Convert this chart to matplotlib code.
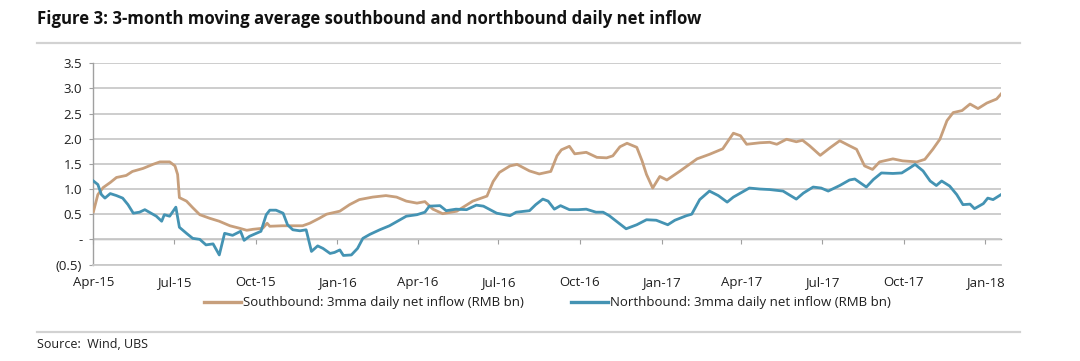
import numpy as np
import pandas as pd
import matplotlib
matplotlib.use("Agg")
import matplotlib.pyplot as plt
import matplotlib.dates as mdates
from matplotlib.lines import Line2D

# Southbound: 3mma daily net inflow (RMB bn)
sb_dates = ["2015-04-01", "2015-04-06", "2015-04-12", "2015-04-20", "2015-04-27", "2015-05-08",
            "2015-05-15", "2015-05-27", "2015-06-07", "2015-06-15", "2015-06-26", "2015-07-02",
            "2015-07-05", "2015-07-07", "2015-07-15", "2015-07-22", "2015-07-30", "2015-08-10",
            "2015-08-21", "2015-09-02", "2015-09-13", "2015-09-21", "2015-09-28", "2015-10-09",
            "2015-10-14", "2015-10-17", "2015-10-31", "2015-11-23", "2015-12-01", "2015-12-12",
            "2015-12-20", "2016-01-04", "2016-01-15", "2016-01-26", "2016-02-10", "2016-02-25",
            "2016-03-08", "2016-03-19", "2016-03-31", "2016-04-09", "2016-04-18", "2016-04-29",
            "2016-05-15", "2016-06-02", "2016-06-18", "2016-06-25", "2016-07-02", "2016-07-14",
            "2016-07-22", "2016-08-05", "2016-08-16", "2016-08-29", "2016-09-05", "2016-09-10",
            "2016-09-19", "2016-09-25", "2016-10-08", "2016-10-20", "2016-10-31", "2016-11-07",
            "2016-11-15", "2016-11-23", "2016-12-04", "2016-12-10", "2016-12-15", "2016-12-22",
            "2016-12-30", "2017-01-07", "2017-01-22", "2017-02-10", "2017-02-24", "2017-03-11",
            "2017-03-23", "2017-03-31", "2017-04-07", "2017-04-22", "2017-05-03", "2017-05-11",
            "2017-05-22", "2017-06-02", "2017-06-09", "2017-06-17", "2017-06-29", "2017-07-10",
            "2017-07-21", "2017-08-01", "2017-08-09", "2017-08-18", "2017-08-27", "2017-09-04",
            "2017-09-19", "2017-09-30", "2017-10-16", "2017-10-25", "2017-11-03", "2017-11-11",
            "2017-11-19", "2017-11-26", "2017-12-06", "2017-12-15", "2017-12-24", "2018-01-03",
            "2018-01-14", "2018-01-19"]
sb_vals = [0.55, 0.89, 1.03, 1.13, 1.23, 1.27,
           1.35, 1.41, 1.49, 1.54, 1.54, 1.46,
           1.29, 0.83, 0.76, 0.63, 0.49, 0.42,
           0.36, 0.27, 0.22, 0.18, 0.20, 0.22,
           0.32, 0.26, 0.27, 0.27, 0.32, 0.42,
           0.50, 0.56, 0.69, 0.79, 0.84, 0.87,
           0.84, 0.76, 0.72, 0.75, 0.60, 0.51,
           0.56, 0.76, 0.86, 1.15, 1.33, 1.46,
           1.49, 1.36, 1.30, 1.35, 1.66, 1.78,
           1.85, 1.70, 1.73, 1.63, 1.62, 1.66,
           1.84, 1.91, 1.83, 1.56, 1.29, 1.02,
           1.25, 1.18, 1.36, 1.60, 1.69, 1.80,
           2.11, 2.06, 1.89, 1.92, 1.93, 1.89,
           1.99, 1.94, 1.97, 1.86, 1.67, 1.82,
           1.96, 1.86, 1.79, 1.46, 1.39, 1.54,
           1.60, 1.56, 1.54, 1.59, 1.79, 1.99,
           2.36, 2.52, 2.56, 2.69, 2.60, 2.71,
           2.79, 2.89]

# Northbound: 3mma daily net inflow (RMB bn)
nb_dates = ["2015-04-01", "2015-04-06", "2015-04-10", "2015-04-14", "2015-04-20", "2015-04-27",
            "2015-05-04", "2015-05-10", "2015-05-16", "2015-05-23", "2015-05-29", "2015-06-03",
            "2015-06-11", "2015-06-17", "2015-06-20", "2015-06-26", "2015-07-03", "2015-07-07",
            "2015-07-15", "2015-07-22", "2015-07-30", "2015-08-06", "2015-08-14", "2015-08-21",
            "2015-08-27", "2015-09-05", "2015-09-14", "2015-09-18", "2015-09-24", "2015-10-07",
            "2015-10-13", "2015-10-17", "2015-10-24", "2015-11-01", "2015-11-06", "2015-11-12",
            "2015-11-20", "2015-11-27", "2015-12-03", "2015-12-10", "2015-12-16", "2015-12-24",
            "2015-12-29", "2016-01-04", "2016-01-08", "2016-01-17", "2016-01-24", "2016-01-30",
            "2016-02-07", "2016-02-18", "2016-02-29", "2016-03-12", "2016-03-19", "2016-03-31",
            "2016-04-09", "2016-04-14", "2016-04-26", "2016-05-03", "2016-05-14", "2016-05-26",
            "2016-06-06", "2016-06-14", "2016-06-29", "2016-07-14", "2016-07-21", "2016-08-05",
            "2016-08-12", "2016-08-20", "2016-08-26", "2016-09-02", "2016-09-09", "2016-09-19",
            "2016-09-29", "2016-10-08", "2016-10-19", "2016-10-27", "2016-11-03", "2016-11-11",
            "2016-11-22", "2016-12-04", "2016-12-15", "2016-12-26", "2017-01-08", "2017-01-16",
            "2017-01-29", "2017-02-04", "2017-02-13", "2017-02-24", "2017-03-06", "2017-03-16",
            "2017-03-23", "2017-03-31", "2017-04-10", "2017-04-22", "2017-05-03", "2017-05-18",
            "2017-06-02", "2017-06-10", "2017-06-21", "2017-06-30", "2017-07-08", "2017-07-21",
            "2017-08-01", "2017-08-07", "2017-08-20", "2017-08-28", "2017-09-06", "2017-09-19",
            "2017-09-29", "2017-10-08", "2017-10-14", "2017-10-23", "2017-10-31", "2017-11-07",
            "2017-11-13", "2017-11-22", "2017-11-30", "2017-12-07", "2017-12-15", "2017-12-20",
            "2017-12-30", "2018-01-04", "2018-01-10", "2018-01-19"]
nb_vals = [1.16, 1.09, 0.89, 0.82, 0.91, 0.87,
           0.82, 0.69, 0.52, 0.54, 0.59, 0.54,
           0.46, 0.36, 0.49, 0.46, 0.64, 0.24,
           0.12, 0.02, 0.00, -0.11, -0.09, -0.31,
           0.12, 0.08, 0.16, -0.02, 0.06, 0.16,
           0.49, 0.58, 0.58, 0.52, 0.29, 0.19,
           0.17, 0.19, -0.24, -0.13, -0.18, -0.28,
           -0.26, -0.21, -0.32, -0.31, -0.18, 0.02,
           0.10, 0.19, 0.27, 0.39, 0.46, 0.49,
           0.54, 0.66, 0.67, 0.57, 0.60, 0.59,
           0.68, 0.66, 0.52, 0.47, 0.54, 0.57,
           0.69, 0.80, 0.76, 0.60, 0.67, 0.59,
           0.59, 0.60, 0.54, 0.54, 0.47, 0.36,
           0.21, 0.29, 0.39, 0.38, 0.29, 0.38,
           0.47, 0.50, 0.79, 0.96, 0.87, 0.74,
           0.84, 0.92, 1.02, 1.00, 0.99, 0.96,
           0.80, 0.92, 1.04, 1.02, 0.96, 1.07,
           1.18, 1.20, 1.04, 1.19, 1.32, 1.31,
           1.32, 1.42, 1.49, 1.36, 1.16, 1.07,
           1.16, 1.06, 0.89, 0.69, 0.70, 0.61,
           0.71, 0.82, 0.79, 0.89]

y_ticks = [-0.5, 0, 0.5, 1.0, 1.5, 2.0, 2.5, 3.0, 3.5]
y_labels = ["(0.5)", "-", "0.5", "1.0", "1.5", "2.0", "2.5", "3.0", "3.5"]

sb_name = "Southbound: 3mma daily net inflow (RMB bn)"
nb_name = "Northbound: 3mma daily net inflow (RMB bn)"

plt.rcParams["font.family"] = ["Open Sans", "DejaVu Sans"]

tan = "#C79F7C"
blue = "#4493B3"
grid_c = "#c9c9c9"
txt_c = "#1e1e1e"

fig = plt.figure(figsize=(10.8, 3.61), dpi=100)
ax = fig.add_axes([0.0865, 0.2673, 0.9269 - 0.0865, 0.8247 - 0.2673])

sb_x = pd.to_datetime(sb_dates)
nb_x = pd.to_datetime(nb_dates)
ax.plot(sb_x, sb_vals, color=tan, lw=2.0, solid_joinstyle="round", zorder=3)
ax.plot(nb_x, nb_vals, color=blue, lw=2.0, solid_joinstyle="round", zorder=4)

ax.set_xlim(pd.Timestamp("2015-04-01"), pd.Timestamp("2018-01-19"))
ax.set_ylim(-0.5, 3.5)
ax.set_yticks(y_ticks, y_labels)
ax.yaxis.grid(True, color=grid_c, lw=1.3)
ax.set_axisbelow(True)

xt = pd.date_range("2015-04-01", "2018-01-01", freq="QS-JAN")
ax.set_xticks(xt)
ax.xaxis.set_major_formatter(mdates.DateFormatter("%b-%y"))
ax.tick_params(axis="x", length=0, pad=8, labelsize=9.5, colors=txt_c)
ax.tick_params(axis="y", length=3, width=0.8, color="#a0a0a0", pad=5, labelsize=9.5, labelcolor=txt_c)

for s in ["top", "right"]:
    ax.spines[s].set_visible(False)
ax.spines["left"].set_color("#a0a0a0")
ax.spines["left"].set_linewidth(1.0)
ax.spines["bottom"].set_color(grid_c)
ax.spines["bottom"].set_linewidth(1.3)

# zero line with the quarter tick marks
sec = ax.secondary_xaxis(0.5 / 4.0)
sec.set_alignment("bottom")
sec.set_xticks(mdates.date2num(xt))
sec.tick_params(axis="x", length=3.5, width=0.8, color="#a0a0a0", labelbottom=False, labeltop=False)
sec.spines["bottom"].set_color("#a0a0a0")
sec.spines["bottom"].set_linewidth(1.0)

handles = [Line2D([], [], color=tan, lw=2.4), Line2D([], [], color=blue, lw=2.4)]
fig.legend(handles, [sb_name, nb_name], loc="center", bbox_to_anchor=(0.507, 0.161),
           ncol=2, frameon=False, fontsize=9.5, handlelength=2.8, handletextpad=0.15,
           columnspacing=3.6, labelcolor=txt_c)

fig.text(37 / 1080, 1 - 19 / 361, "Figure 3: 3-month moving average southbound and northbound daily net inflow",
         fontsize=12.1, fontweight="bold", color="#111111", va="center", ha="left")
fig.add_artist(Line2D([37 / 1080, 1020 / 1080], [1 - 43 / 361, 1 - 43 / 361], color="#d2d2d2", lw=1.6))
fig.add_artist(Line2D([37 / 1080, 1020 / 1080], [1 - 332 / 361, 1 - 332 / 361], color="#d2d2d2", lw=1.6))
fig.text(37 / 1080, 1 - 345 / 361, "Source:  Wind, UBS", fontsize=9, color=txt_c, va="center", ha="left")

fig.savefig("out.png", dpi=100)
